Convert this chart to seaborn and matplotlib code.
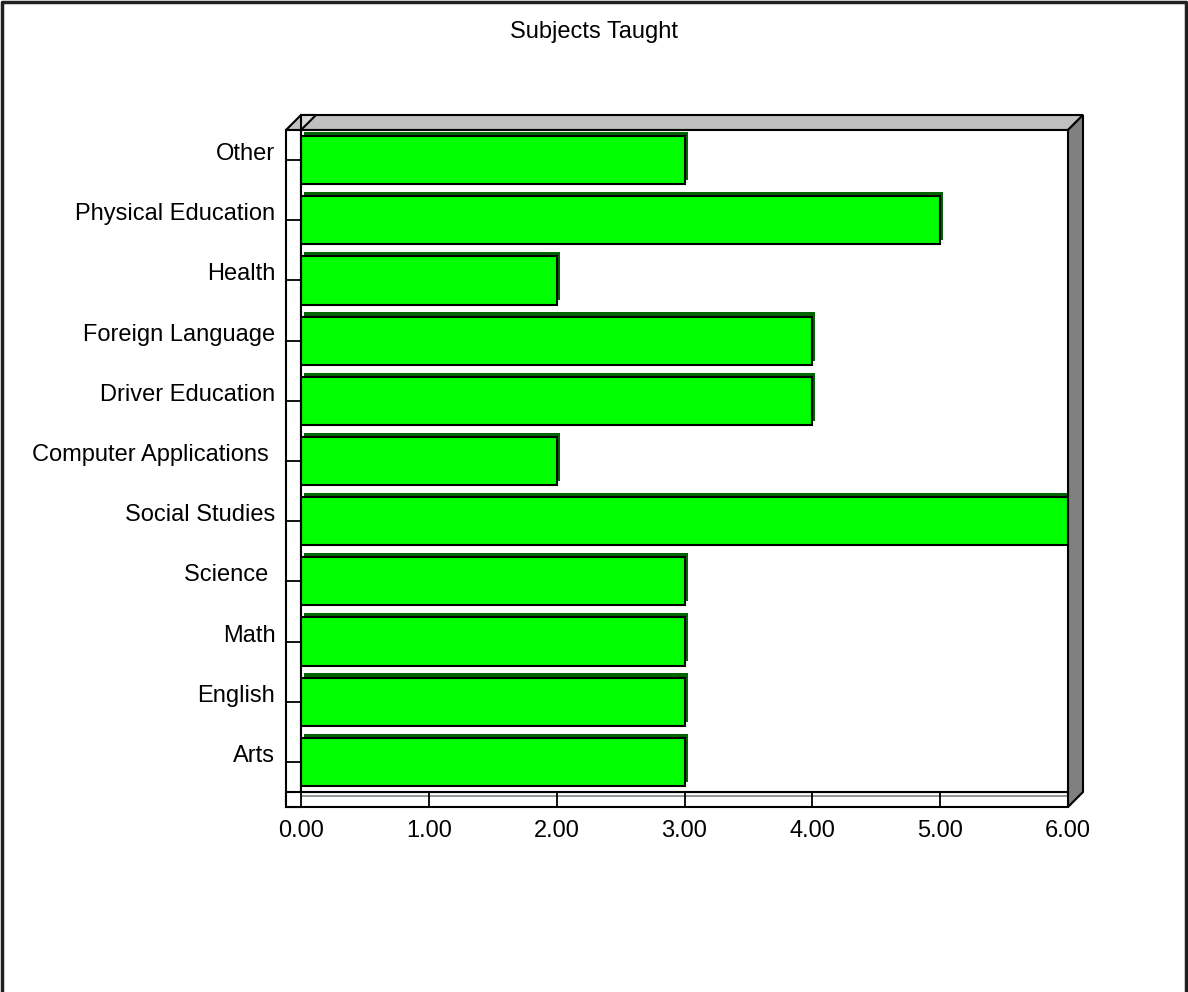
import matplotlib
matplotlib.use("Agg")
import matplotlib.pyplot as plt
import matplotlib.patheffects as pe
from matplotlib.patches import Polygon
from matplotlib.lines import Line2D
import seaborn as sns
import pandas as pd

subjects = ["Other", "Physical Education", "Health", "Foreign Language",
            "Driver Education", "Computer Applications ", "Social Studies",
            "Science ", "Math", "English", "Arts"]
counts = [3, 5, 2, 4, 4, 2, 6, 3, 3, 3, 3]
x_ticks = [0, 1, 2, 3, 4, 5, 6]
title = "Subjects Taught"

df = pd.DataFrame({"subject": subjects, "count": counts})

sns.set_style("white")
plt.rcParams["font.family"] = ["Liberation Sans", "DejaVu Sans"]
plt.rcParams["text.color"] = "black"

W, H = 1188, 992
fig = plt.figure(figsize=(W / 100, H / 100), dpi=100)
L, R, T, B, d = 301, 1068, 130, 792, 15
ax = fig.add_axes([L / W, 1 - B / H, (R - L) / W, (B - T) / H])

sns.barplot(data=df, x="count", y="subject", orient="h", color="#00FF00",
            saturation=1, edgecolor="black", linewidth=1.5, width=0.8, ax=ax)

for p in ax.patches:
    p.set_path_effects([pe.SimplePatchShadow(offset=(2.2, 3.0), shadow_rgbFace="#006400", alpha=1.0),
                        pe.Normal()])

ax.set_xlim(0, 6)
ax.set_xticks(x_ticks)
ax.set_xticklabels([f"{v:.2f}" for v in x_ticks])
ax.set_xlabel("")
ax.set_ylabel("")
for s in ax.spines.values():
    s.set_visible(True)
    s.set_linewidth(1.5)
    s.set_color("black")
ax.tick_params(axis="x", direction="out", length=11.5, width=1.3, pad=9, labelsize=17, bottom=True,
               colors="black", labelcolor="black")
ax.tick_params(axis="y", direction="out", length=11.5, width=1.3, pad=7, labelsize=17, left=True,
               colors="black", labelcolor="black")
for lab in ax.get_yticklabels():
    lab.set_verticalalignment("baseline")


def fp(px, py):
    return (px / W, 1 - py / H)


def poly(pts, fc, z=-1):
    fig.add_artist(Polygon([fp(*q) for q in pts], closed=True, facecolor=fc, edgecolor="black",
                           linewidth=1.5, transform=fig.transFigure, zorder=z))


# 3D frame decorations (derived from axes box)
poly([(L - d, T), (R, T), (R + d, T - d), (L, T - d)], "#C0C0C0")
poly([(L, T), (L + d, T - d), (L, T - d)], "#D8D8D8")
poly([(R, T), (R + d, T - d), (R + d, B), (R, B + d)], "#808080")
poly([(L - d, T), (L, T), (L, B + d), (L - d, B + d)], "white")
poly([(L - d, B), (R, B), (R, B + d), (L - d, B + d)], "white")
fig.add_artist(Line2D([fp(L, B + 4)[0], fp(R, B + 4)[0]], [fp(L, B + 4)[1]] * 2,
                      color="#808080", linewidth=1.2, transform=fig.transFigure, zorder=-1))

fig.text(0.5, 1 - 32 / H, title, ha="center", va="center", fontsize=17, color="black")

# outer frame (left, top, right)
fig.add_artist(Line2D([0.002, 0.002, 0.998, 0.998], [0.0, 0.998, 0.998, 0.0],
                      color="#202020", linewidth=2.5, transform=fig.transFigure))

fig.savefig("out.png", dpi=100)
